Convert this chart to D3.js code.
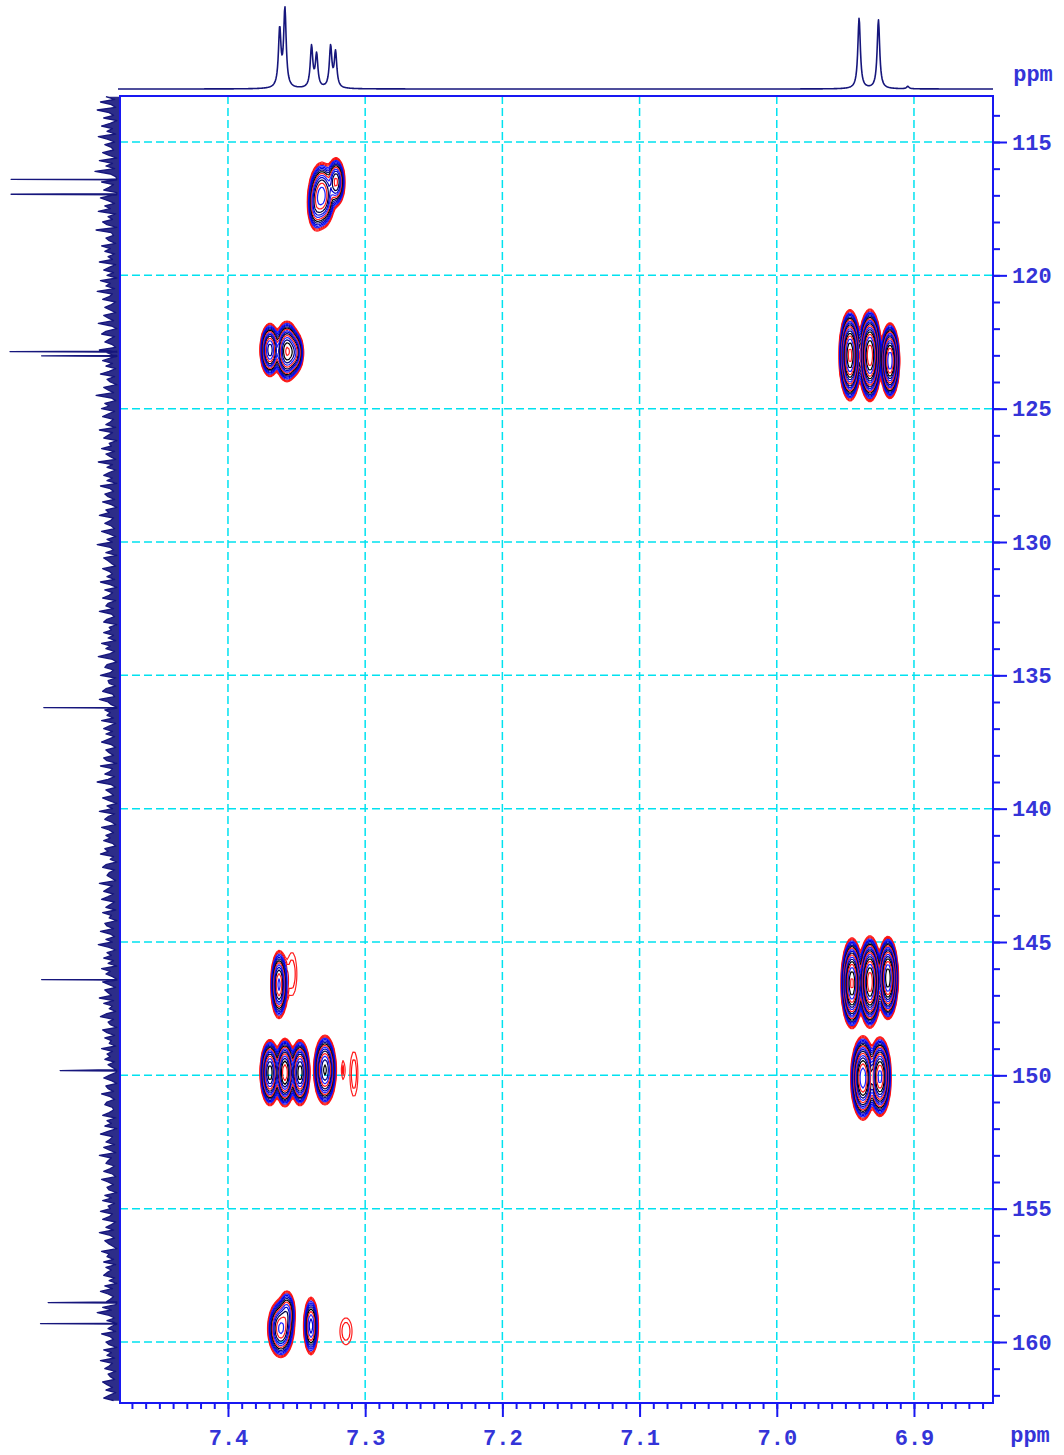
<!DOCTYPE html>
<html>
<head>
<meta charset="utf-8">
<script src="https://cdn.jsdelivr.net/npm/d3@7"></script>
<style>
  html, body { margin: 0; padding: 0; background: #ffffff; }
  svg { display: block; }
</style>
</head>
<body>
<svg id="chart" width="1064" height="1455"></svg>
<script>
// ---- Axis ticks -------------------------------------------------------
const protonTicks = [7.4, 7.3, 7.2, 7.1, 7.0, 6.9];
const protonTickLabels = ["7.4", "7.3", "7.2", "7.1", "7.0", "6.9"];
const carbonTicks = [115, 120, 125, 130, 135, 140, 145, 150, 155, 160];
const carbonTickLabels = ["115", "120", "125", "130", "135", "140", "145", "150", "155", "160"];

// ---- 1H projection (top trace): line positions (ppm) and heights -------
const protonShifts  = [7.3623, 7.3585, 7.3391, 7.3354, 7.3252, 7.3216, 6.9400, 6.9259, 6.9045];
const protonHeights = [70, 95, 50, 40, 50, 43, 86, 84, 3];

// ---- 13C projection (left trace): lines (ppm) and heights --------------
const carbonShifts  = [116.40, 116.96, 122.86, 123.02, 136.21, 146.41, 149.82, 158.52, 159.31];
const carbonHeights = [99, 99, 100, 71, 69, 71, 54, 65, 72];
// baseline noise of the 13C trace, one value every 0.1 ppm from 113.3 ppm
const carbonNoiseStart = 113.3;
const carbonNoiseStep = 0.1;
const carbonNoise = [
  12,4,17,7,3,20,9,5,14,2,8,16,6,11,3,19,10,4,13,7,
  5,15,9,2,18,6,12,4,22,8,3,11,16,5,9,14,2,7,17,10,
  4,13,8,19,3,10,6,15,11,2,21,7,5,12,9,3,16,8,13,4,
  10,6,18,3,9,14,5,11,2,17,8,12,4,20,6,9,15,3,7,13,
  8,3,14,10,5,19,7,2,12,16,4,9,13,6,3,18,11,5,8,15,
  6,12,3,9,17,4,11,8,2,14,10,5,21,7,3,13,9,16,4,10,
  15,5,8,12,3,18,6,10,14,2,9,7,16,4,12,8,3,19,6,11,
  3,9,14,6,11,2,17,8,5,13,10,4,15,7,2,12,9,18,5,8,
  13,7,4,16,9,3,11,6,20,8,5,12,2,14,10,7,3,15,9,6,
  11,4,17,8,2,13,6,9,15,3,10,12,5,18,7,4,11,14,2,9,
  7,14,5,10,3,16,8,12,4,9,19,6,2,11,13,5,8,17,3,10,
  9,3,12,15,6,4,18,10,7,2,13,8,11,5,16,3,9,14,6,12,
  4,10,16,7,3,12,9,5,14,11,2,17,6,8,13,4,10,20,7,3,
  12,8,5,15,9,2,11,6,18,4,10,13,7,3,16,9,5,12,8,14,
  6,3,13,10,17,5,8,2,12,15,4,9,11,7,3,18,6,10,14,5,
  10,16,4,8,12,3,15,7,9,2,13,11,5,17,8,4,12,6,19,9,
  3,11,7,14,5,10,2,16,8,12,6,4,15,9,3,13,10,7,18,5,
  14,6,9,3,12,17,5,10,8,2,15,11,4,13,7,9,3,16,6,11,
  8,13,4,10,6,19,3,9,14,7,2,12,10,5,16,8,4,11,13,6,
  5,9,15,3,11,7,13,2,10,17,6,8,12,4,14,9,3,18,7,10,
  12,4,8,14,6,3,16,10,5,11,9,2,13,7,15,4,10,8,17,6,
  9,15,3,7,12,5,18,8,4,13,10,6,2,16,9,11,5,14,3,12,
  7,11,14,4,9,2,13,6,17,10,5,8,12,3,15,7,20,9,4,11,
  13,6,10,3,16,8,5,12,9,2,14,7,11,4,17,6,9,13,3,10,
  8,4,15,11,6,12,3,9,14,5
];

// ---- HMBC cross peaks: 1H shift, 13C shift, intensity, widths (ppm) -----
const crossH = [
  7.3315, 7.3213, 7.3360,
  7.3694, 7.3570, 7.3515,
  6.9466, 6.9321, 6.9175,
  7.3628, 7.3534,
  7.3694, 7.3585, 7.3475, 7.3293, 7.3162, 7.3082,
  6.9452, 6.9321, 6.9190,
  6.9372, 6.9248,
  7.3615, 7.3570, 7.3395, 7.3140
];
const crossC = [
  117.0, 116.5, 117.4,
  122.8, 122.85, 122.9,
  123.0, 123.0, 123.2,
  146.6, 146.2,
  149.9, 149.9, 149.9, 149.8, 149.8, 149.95,
  146.55, 146.5, 146.35,
  150.1, 150.05,
  159.5, 158.9, 159.4, 159.6
];
const crossAmp = [
  45, 30, 12,
  60, 90, 30,
  230, 270, 150,
  40, 1.5,
  80, 110, 80, 70, 1.3, 1.5,
  220, 260, 200,
  150, 130,
  40, 15, 18, 1.5
];
const crossWidthH = [
  0.0035, 0.0025, 0.0025,
  0.0025, 0.0030, 0.0025,
  0.0024, 0.0025, 0.0022,
  0.0022, 0.0040,
  0.0024, 0.0024, 0.0024, 0.0028, 0.0016, 0.0032,
  0.0024, 0.0025, 0.0023,
  0.0028, 0.0026,
  0.0035, 0.0025, 0.0022, 0.0049
];
const crossWidthC = [
  0.45, 0.35, 0.40,
  0.35, 0.38, 0.30,
  0.52, 0.52, 0.45,
  0.47, 0.90,
  0.42, 0.42, 0.42, 0.45, 0.44, 0.94,
  0.52, 0.52, 0.48,
  0.50, 0.48,
  0.40, 0.35, 0.45, 0.56
];

// contour levels and the colour used for each level
const contourLevels = [1, 1.25, 1.6, 2.1, 2.8, 3.7, 4.9, 6.5, 8.6, 11.4, 15, 20, 27, 36, 48, 64, 85, 113, 150, 200];
const contourColors = ["#ff2020", "#ff1010", "#e81818", "#2020ff", "#0000ee", "#0000d0", "#10108a", "#000000",
                       "#ff2020", "#2525ff", "#0000cc", "#000040", "#ff2020", "#2020ff", "#000080", "#000000",
                       "#ff2020", "#2020ff", "#000000", "#ff2020"];

// ---- Layout --------------------------------------------------------------
const plotLeft = 120, plotRight = 993, plotTop = 96, plotBottom = 1403;
const frameColor = "#1818f2";
const labelColor = "#3434d8";
const traceColor = "#16167c";
const gridColor = "#00e2f0";
const fontFamily = "'Liberation Mono', 'DejaVu Sans Mono', monospace";

const svg = d3.select("#chart");

const x = d3.scaleLinear().domain([7.4787, 6.8424]).range([plotLeft, plotRight]);
const y = d3.scaleLinear().domain([113.275, 162.2875]).range([plotTop, plotBottom]);
const topY = d3.scaleLinear().domain([0, 100]).range([89, 7]);
const leftX = d3.scaleLinear().domain([0, 100]).range([119, 10]);

// ---- Grid ----------------------------------------------------------------
const grid = svg.append("g")
  .attr("stroke", gridColor)
  .attr("stroke-width", 1.5)
  .attr("stroke-dasharray", "8,4");
grid.selectAll("line.v").data(protonTicks).join("line")
  .attr("class", "v")
  .attr("x1", d => x(d)).attr("x2", d => x(d))
  .attr("y1", plotTop).attr("y2", plotBottom);
grid.selectAll("line.h").data(carbonTicks).join("line")
  .attr("class", "h")
  .attr("x1", plotLeft).attr("x2", plotRight)
  .attr("y1", d => y(d)).attr("y2", d => y(d));

// ---- Contours ------------------------------------------------------------
const step = 2;
const nx = Math.ceil((plotRight - plotLeft) / step);
const ny = Math.ceil((plotBottom - plotTop) / step);
const field = new Float64Array(nx * ny);
crossH.forEach((h, k) => {
  const c = crossC[k];
  const cx = x(h) - plotLeft, cy = y(c) - plotTop;
  const sx = Math.abs(x(h + crossWidthH[k]) - x(h));
  const sy = Math.abs(y(c + crossWidthC[k]) - y(c));
  const i0 = Math.max(0, Math.floor((cx - 6 * sx) / step));
  const i1 = Math.min(nx - 1, Math.ceil((cx + 6 * sx) / step));
  const j0 = Math.max(0, Math.floor((cy - 6 * sy) / step));
  const j1 = Math.min(ny - 1, Math.ceil((cy + 6 * sy) / step));
  for (let j = j0; j <= j1; j++) {
    const dy = ((j + 0.5) * step - cy) / sy;
    for (let i = i0; i <= i1; i++) {
      const dx = ((i + 0.5) * step - cx) / sx;
      field[j * nx + i] += crossAmp[k] * Math.exp(-0.5 * (dx * dx + dy * dy));
    }
  }
});
const contours = d3.contours().size([nx, ny]).thresholds(contourLevels)(field);
const contourPath = d3.geoPath(d3.geoIdentity().scale(step));
svg.append("defs").append("clipPath").attr("id", "plotClip")
  .append("rect").attr("x", plotLeft).attr("y", plotTop)
  .attr("width", plotRight - plotLeft).attr("height", plotBottom - plotTop);
svg.append("g")
  .attr("clip-path", "url(#plotClip)")
  .append("g")
  .attr("transform", `translate(${plotLeft},${plotTop})`)
  .selectAll("path").data(contours).join("path")
  .attr("d", contourPath)
  .attr("fill", "none")
  .attr("stroke", (d, i) => contourColors[i % contourColors.length])
  .attr("stroke-width", 1.2)
  .attr("stroke-linejoin", "round");

// ---- Axes ----------------------------------------------------------------
const minorProton = d3.range(747, 684, -1).map(v => v / 100).filter(v => v <= 7.4787 && v >= 6.8424);
const minorCarbon = d3.range(114, 163, 1);

const bottomMinor = svg.append("g").attr("transform", `translate(0,${plotBottom})`)
  .call(d3.axisBottom(x).tickValues(minorProton).tickSize(6).tickSizeOuter(0).tickFormat(""));
const bottomMajor = svg.append("g").attr("transform", `translate(0,${plotBottom})`)
  .call(d3.axisBottom(x).tickValues(protonTicks).tickSize(14).tickSizeOuter(0).tickPadding(12)
    .tickFormat((d, i) => protonTickLabels[i]));
const rightMinor = svg.append("g").attr("transform", `translate(${plotRight},0)`)
  .call(d3.axisRight(y).tickValues(minorCarbon).tickSize(7).tickSizeOuter(0).tickFormat(""));
const rightMajor = svg.append("g").attr("transform", `translate(${plotRight},0)`)
  .call(d3.axisRight(y).tickValues(carbonTicks).tickSize(14).tickSizeOuter(0).tickPadding(5)
    .tickFormat((d, i) => carbonTickLabels[i]));

[bottomMinor, bottomMajor, rightMinor, rightMajor].forEach(g => {
  g.select(".domain").remove();
  g.selectAll(".tick line").attr("stroke", frameColor).attr("stroke-width", 2);
  g.selectAll(".tick text")
    .attr("fill", labelColor)
    .attr("font-family", fontFamily)
    .attr("font-weight", "bold")
    .attr("font-size", 22);
});

// ---- 13C projection (left), drawn as a filled trace from its baseline -----
const carbonPoints = carbonNoise.map((v, i) => [carbonNoiseStart + i * carbonNoiseStep, v]);
carbonShifts.forEach((s, k) => {
  carbonPoints.push([s - 0.02, 2], [s, carbonHeights[k]], [s + 0.02, 2]);
});
carbonPoints.sort((a, b) => a[0] - b[0]);
svg.append("path")
  .attr("d", d3.area().x0(leftX(0)).x1(d => leftX(d[1])).y(d => y(d[0]))(carbonPoints))
  .attr("fill", traceColor).attr("fill-opacity", 0.9);
svg.append("path")
  .attr("d", d3.line().x(d => leftX(d[1])).y(d => y(d[0]))(carbonPoints))
  .attr("fill", "none").attr("stroke", traceColor).attr("stroke-width", 1.3)
  .attr("stroke-linejoin", "round");

// plot frame
svg.append("rect")
  .attr("x", plotLeft).attr("y", plotTop)
  .attr("width", plotRight - plotLeft).attr("height", plotBottom - plotTop)
  .attr("fill", "none").attr("stroke", frameColor).attr("stroke-width", 2);

// unit labels
svg.append("text").attr("x", 1033).attr("y", 81).attr("text-anchor", "middle")
  .attr("fill", labelColor).attr("font-family", fontFamily).attr("font-weight", "bold")
  .attr("font-size", 22).text("ppm");
svg.append("text").attr("x", 1030).attr("y", 1442).attr("text-anchor", "middle")
  .attr("fill", labelColor).attr("font-family", fontFamily).attr("font-weight", "bold")
  .attr("font-size", 22).text("ppm");

// ---- 1H projection (top) ---------------------------------------------------
const hwhm = 0.0011;
const protonTrace = d3.range(plotLeft - 2, plotRight + 0.01, 0.5).map(px => {
  const ppm = x.invert(px);
  let v = 0;
  protonShifts.forEach((s, k) => {
    const t = (ppm - s) / hwhm;
    v += protonHeights[k] / (1 + t * t);
  });
  return [px, topY(v)];
});
svg.append("path")
  .attr("d", d3.line()(protonTrace))
  .attr("fill", "none").attr("stroke", traceColor).attr("stroke-width", 1.6)
  .attr("stroke-linejoin", "round");
</script>
</body>
</html>
